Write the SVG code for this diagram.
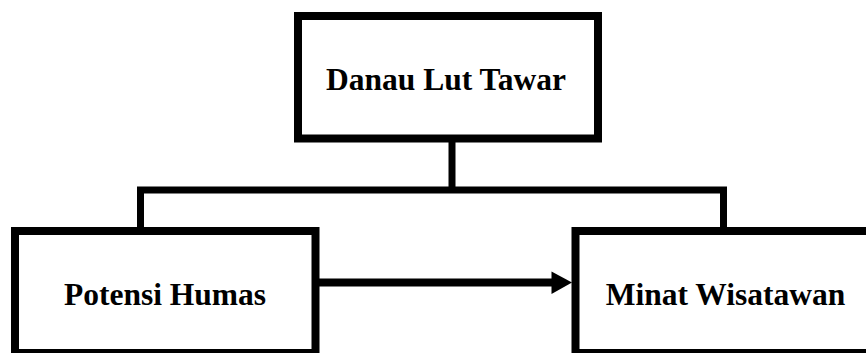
<svg xmlns="http://www.w3.org/2000/svg" width="866" height="353" viewBox="0 0 866 353">
<style>
.box{fill:#fff;stroke:#000;stroke-width:8}
.lbl{font-family:"Liberation Serif","Times New Roman",serif;font-weight:bold;font-size:31.5px;fill:#000;text-anchor:middle}
.con{fill:none;stroke:#000;stroke-width:7}
</style>
<rect width="866" height="353" fill="#fff"/>
<g id="connectors">
<polyline class="con" points="452,139 452,190"/>
<polyline class="con" points="140.5,231 140.5,190 723.5,190 723.5,231"/>
<line x1="319" y1="282.5" x2="553" y2="282.5" stroke="#000" stroke-width="8"/>
<polygon points="551.5,271.5 572,282.5 551.5,294" fill="#000"/>
</g>
<g id="node-danau">
<rect class="box" x="298" y="16" width="300" height="122.5"/>
<text class="lbl" x="446" y="90">Danau Lut Tawar</text>
</g>
<g id="node-potensi">
<rect class="box" x="15" y="231" width="300.5" height="122"/>
<text class="lbl" x="165" y="305">Potensi Humas</text>
</g>
<g id="node-minat">
<rect class="box" x="575.5" y="231" width="300" height="122"/>
<text class="lbl" x="725.5" y="305">Minat Wisatawan</text>
</g>
</svg>
